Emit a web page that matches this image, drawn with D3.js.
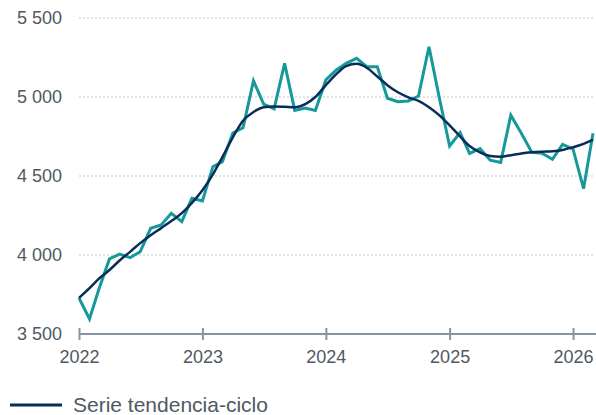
<!DOCTYPE html>
<html>
<head>
<meta charset="utf-8">
<script src="https://cdn.jsdelivr.net/npm/d3@7"></script>
<style>
  html, body { margin: 0; padding: 0; background: #fff; }
  svg { display: block; font-family: "Liberation Sans", Arial, sans-serif; }
</style>
</head>
<body>
<svg id="chart" width="596" height="415"></svg>
<script>
// Monthly data, Jan 2022 – Mar 2026
const startYear = 2022, startMonth = 0;
const originalSeries = [
  3728, 3595, 3785, 3975, 4006, 3983, 4021, 4169, 4190, 4264, 4211, 4359,
  4342, 4559, 4591, 4772, 4805, 5102, 4955, 4925, 5213, 4915, 4930, 4915,
  5108, 5171, 5213, 5245, 5192, 5192, 4992, 4970, 4975, 5006, 5318, 5000,
  4690, 4775, 4643, 4673, 4600, 4585, 4885, 4770, 4650, 4644, 4606, 4700,
  4670, 4420, 4770
];
const trendSeries = [
  3728, 3790, 3850, 3905, 3965, 4020, 4075, 4125, 4170, 4215, 4265, 4330,
  4410, 4510, 4620, 4745, 4850, 4905, 4935, 4940, 4938, 4935, 4955, 5000,
  5075, 5145, 5195, 5210, 5185, 5130, 5075, 5030, 4998, 4975, 4935, 4885,
  4820, 4750, 4690, 4650, 4627, 4622, 4632, 4643, 4650, 4654, 4657, 4665,
  4682, 4703, 4730
];
const yTicks = [3500, 4000, 4500, 5000, 5500];
const xTickYears = [2022, 2023, 2024, 2025, 2026];
const legendLabel = "Serie tendencia-ciclo";

const dates = originalSeries.map((_, i) => new Date(startYear, startMonth + i, 1));

const svg = d3.select("#chart");
const x = d3.scaleTime()
  .domain([dates[0], dates[dates.length - 1]])
  .range([79, 593]);
const y = d3.scaleLinear().domain([3500, 5500]).range([334, 18]);

const textColor = "#4f5963";
const axisColor = "#8795a3";
const teal = "#16999a";
const navy = "#0b2c58";

// gridlines
svg.append("g").selectAll("line")
  .data(yTicks.filter(d => d !== 3500))
  .join("line")
  .attr("x1", 79).attr("x2", 593)
  .attr("y1", d => y(d)).attr("y2", d => y(d))
  .attr("stroke", "#c3c9cf").attr("stroke-width", 1)
  .attr("stroke-dasharray", "2,2");

// y labels
const fmt = v => d3.format(",")(v).replace(/,/g, "\u00a0");
svg.append("g").selectAll("text")
  .data(yTicks)
  .join("text")
  .attr("x", 62).attr("y", d => y(d))
  .attr("dy", "0.35em")
  .attr("text-anchor", "end")
  .attr("font-size", 18)
  .attr("fill", textColor)
  .text(d => fmt(d));

// x axis
const xAxis = d3.axisBottom(x)
  .tickValues(xTickYears.map(yr => new Date(yr, 0, 1)))
  .tickFormat(d3.timeFormat("%Y"))
  .tickSizeInner(6).tickSizeOuter(0).tickPadding(10);
const gx = svg.append("g").attr("transform", "translate(0,334)").call(xAxis);
gx.select(".domain").attr("stroke", axisColor).attr("stroke-width", 2)
  .attr("d", "M79,0H596");
gx.selectAll(".tick line").attr("stroke", axisColor).attr("stroke-width", 2)
  .attr("y1", -6).attr("y2", 6);
gx.selectAll(".tick text").attr("font-size", 18).attr("fill", textColor)
  .attr("font-family", "Liberation Sans, Arial, sans-serif")
  .attr("y", 16);

// lines
const line = d3.line().x((d, i) => x(dates[i])).y(d => y(d));
const smooth = d3.line().x((d, i) => x(dates[i])).y(d => y(d)).curve(d3.curveMonotoneX);

svg.append("path").datum(originalSeries)
  .attr("d", line).attr("fill", "none")
  .attr("stroke", teal).attr("stroke-width", 3)
  .attr("stroke-linejoin", "miter");

svg.append("path").datum(trendSeries)
  .attr("d", smooth).attr("fill", "none")
  .attr("stroke", navy).attr("stroke-width", 2.5);

// legend
svg.append("line").attr("x1", 10).attr("x2", 62).attr("y1", 405).attr("y2", 405)
  .attr("stroke", navy).attr("stroke-width", 3);
svg.append("text").attr("x", 73).attr("y", 412)
  .attr("font-size", 21).attr("fill", textColor)
  .text(legendLabel);
</script>
</body>
</html>
